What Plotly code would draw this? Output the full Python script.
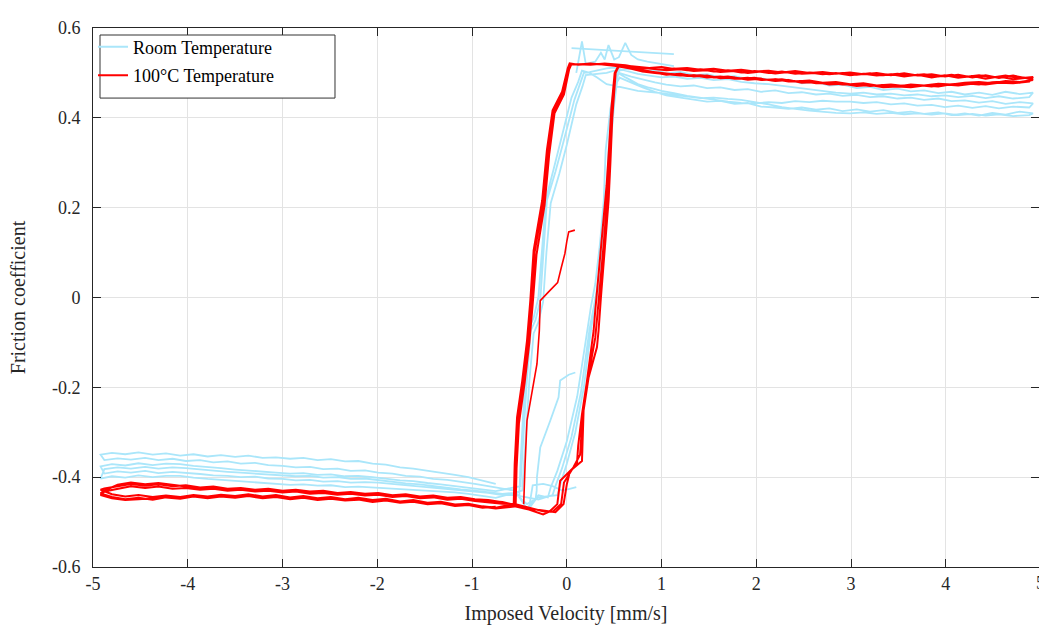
import plotly.graph_objects as go

# ---------------- sampling grids (velocity, mm/s) ----------------
XTOP_F = [0.55, 0.68, 0.8, 0.93, 1.05, 1.2, 1.34, 1.48, 1.62, 1.77, 1.91, 2.05, 2.2, 2.34, 2.48, 2.63,
          2.77, 2.91, 3.06, 3.2, 3.34, 3.49, 3.63, 3.77, 3.92, 4.06, 4.2, 4.35, 4.49, 4.63, 4.78, 4.92]
XTOP_R = [0.5, 0.62, 0.75, 0.87, 1.0, 1.13, 1.27, 1.41, 1.55, 1.7, 1.84, 1.98, 2.13, 2.27, 2.41, 2.56,
          2.7, 2.84, 2.99, 3.13, 3.27, 3.42, 3.56, 3.7, 3.85, 3.99, 4.13, 4.28, 4.42, 4.56, 4.71, 4.88]
XBOT_F = [-4.88, -4.74, -4.6, -4.45, -4.31, -4.16, -4.02, -3.87, -3.73, -3.58, -3.44, -3.29, -3.15, -3.0, -2.86,
          -2.71, -2.57, -2.42, -2.28, -2.13, -1.99, -1.84, -1.7, -1.55, -1.41, -1.26, -1.12, -0.97, -0.83, -0.68]
XBOT_R = [-4.92, -4.8, -4.66, -4.52, -4.37, -4.23, -4.08, -3.94, -3.79, -3.65, -3.5, -3.36, -3.21, -3.07, -2.92,
          -2.78, -2.63, -2.49, -2.34, -2.2, -2.05, -1.91, -1.76, -1.62, -1.47, -1.33, -1.18, -1.04, -0.89, -0.75]

# ---------------- 100 C temperature (red) ----------------
RSX = [0.085, 0.02, 0.0, -0.02, -0.06, -0.097, -0.19, -0.28, -0.285, -0.29, -0.315, -0.37, -0.42, -0.44, -0.455]
RSY = [0.15, 0.146, 0.125, 0.098, 0.065, 0.033, 0.013, -0.007, -0.04, -0.074, -0.148, -0.21, -0.274, -0.37, -0.46]

RF1 = [0.515, 0.509, 0.503, 0.5, 0.497, 0.494, 0.495, 0.49, 0.492, 0.487, 0.489, 0.484, 0.486, 0.481, 0.482, 0.477,
       0.478, 0.474, 0.475, 0.471, 0.473, 0.47, 0.474, 0.472, 0.476, 0.474, 0.478, 0.48, 0.477, 0.482, 0.48, 0.484]
RF2 = [0.518, 0.512, 0.506, 0.501, 0.496, 0.498, 0.492, 0.494, 0.488, 0.49, 0.485, 0.487, 0.482, 0.484, 0.478, 0.48,
       0.474, 0.476, 0.471, 0.473, 0.468, 0.47, 0.468, 0.472, 0.47, 0.475, 0.477, 0.474, 0.479, 0.481, 0.478, 0.485]
RF3 = [0.517, 0.514, 0.511, 0.509, 0.506, 0.508, 0.504, 0.506, 0.502, 0.504, 0.5, 0.503, 0.499, 0.502, 0.498, 0.5,
       0.497, 0.5, 0.496, 0.499, 0.495, 0.498, 0.494, 0.497, 0.492, 0.496, 0.491, 0.495, 0.49, 0.494, 0.488, 0.491]
RU1 = [0.519, 0.516, 0.514, 0.511, 0.513, 0.509, 0.511, 0.507, 0.509, 0.505, 0.507, 0.503, 0.505, 0.501, 0.504, 0.5,
       0.502, 0.498, 0.501, 0.497, 0.5, 0.495, 0.499, 0.494, 0.497, 0.492, 0.496, 0.49, 0.495, 0.489, 0.494, 0.487]
RU2 = [0.52, 0.517, 0.512, 0.51, 0.507, 0.51, 0.506, 0.508, 0.503, 0.506, 0.501, 0.504, 0.5, 0.503, 0.498, 0.501,
       0.497, 0.5, 0.495, 0.498, 0.494, 0.497, 0.492, 0.496, 0.49, 0.495, 0.489, 0.493, 0.487, 0.492, 0.486, 0.49]
RU3 = [0.516, 0.512, 0.507, 0.503, 0.499, 0.496, 0.493, 0.495, 0.49, 0.492, 0.487, 0.489, 0.484, 0.486, 0.481, 0.483,
       0.478, 0.48, 0.475, 0.477, 0.472, 0.474, 0.471, 0.473, 0.47, 0.474, 0.472, 0.476, 0.474, 0.478, 0.477, 0.481]

TLX = [0.4, 0.25, 0.12]
TLY1 = [0.519, 0.52, 0.518]
TLY2 = [0.521, 0.518, 0.52]
TLY3 = [0.518, 0.521, 0.519]

RLX1 = [0.03, 0.01, -0.05, -0.15, -0.21, -0.26, -0.35, -0.385, -0.42, -0.47, -0.525, -0.55, -0.56]
RLY1 = [0.521, 0.51, 0.458, 0.417, 0.328, 0.216, 0.105, -0.007, -0.096, -0.185, -0.267, -0.371, -0.46]
RLX2 = [0.05, 0.025, -0.03, -0.13, -0.185, -0.235, -0.32, -0.36, -0.395, -0.445, -0.505, -0.53, -0.54]
RLY2 = [0.52, 0.508, 0.452, 0.41, 0.32, 0.205, 0.095, -0.015, -0.1, -0.19, -0.28, -0.38, -0.465]
RLX3 = [0.04, 0.02, -0.045, -0.14, -0.2, -0.25, -0.34, -0.375, -0.41, -0.46, -0.515, -0.545, -0.555]
RLY3 = [0.519, 0.507, 0.455, 0.414, 0.325, 0.21, 0.1, -0.01, -0.098, -0.188, -0.272, -0.375, -0.462]

RBL1 = [-0.436, -0.444, -0.449, -0.446, -0.45, -0.445, -0.448, -0.443, -0.447, -0.443, -0.446, -0.442, -0.447, -0.444, -0.449,
        -0.446, -0.451, -0.448, -0.452, -0.45, -0.455, -0.452, -0.457, -0.455, -0.46, -0.458, -0.464, -0.462, -0.468, -0.466]
RBL2 = [-0.428, -0.438, -0.443, -0.44, -0.444, -0.441, -0.444, -0.44, -0.443, -0.439, -0.442, -0.438, -0.443, -0.44, -0.445,
        -0.442, -0.447, -0.444, -0.449, -0.446, -0.451, -0.448, -0.454, -0.451, -0.457, -0.455, -0.461, -0.459, -0.465, -0.468]
RBL3 = [-0.44, -0.447, -0.451, -0.449, -0.447, -0.443, -0.445, -0.441, -0.444, -0.44, -0.444, -0.44, -0.445, -0.441, -0.446,
        -0.443, -0.448, -0.445, -0.45, -0.447, -0.452, -0.45, -0.455, -0.452, -0.458, -0.456, -0.462, -0.46, -0.466, -0.47]
RBU1 = [-0.43, -0.417, -0.412, -0.416, -0.413, -0.418, -0.421, -0.425, -0.423, -0.427, -0.425, -0.429, -0.427, -0.431, -0.429,
        -0.433, -0.431, -0.436, -0.434, -0.438, -0.436, -0.441, -0.439, -0.444, -0.442, -0.447, -0.445, -0.45, -0.452, -0.455]
RBU2 = [-0.425, -0.42, -0.415, -0.419, -0.416, -0.42, -0.418, -0.423, -0.421, -0.426, -0.424, -0.428, -0.426, -0.43, -0.428,
        -0.432, -0.43, -0.435, -0.433, -0.437, -0.435, -0.44, -0.438, -0.443, -0.441, -0.446, -0.444, -0.449, -0.451, -0.456]
RBU3 = [-0.432, -0.426, -0.42, -0.424, -0.421, -0.426, -0.424, -0.428, -0.426, -0.43, -0.428, -0.432, -0.43, -0.434, -0.432,
        -0.437, -0.435, -0.439, -0.437, -0.441, -0.439, -0.444, -0.442, -0.447, -0.445, -0.45, -0.448, -0.453, -0.456, -0.459]

RTAILX = [-0.55, -0.4, -0.25]
RTAILY1 = [-0.462, -0.47, -0.474]
RTAILY2 = [-0.465, -0.472, -0.483]
RTAILY3 = [-0.46, -0.468, -0.476]

RRX1 = [-0.12, -0.034, 0.0, 0.035, 0.16, 0.177, 0.23, 0.318, 0.335, 0.36, 0.40, 0.441, 0.46, 0.48, 0.515, 0.55]
RRY1 = [-0.478, -0.46, -0.416, -0.386, -0.364, -0.252, -0.178, -0.111, -0.074, 0.0, 0.10, 0.216, 0.30, 0.40, 0.5, 0.515]
RRX2 = [-0.18, -0.10, -0.07, 0.107, 0.12, 0.16, 0.21, 0.283, 0.3, 0.335, 0.375, 0.42, 0.445, 0.47, 0.505, 0.55]
RRY2 = [-0.476, -0.46, -0.408, -0.371, -0.33, -0.26, -0.19, -0.074, -0.03, 0.05, 0.15, 0.25, 0.33, 0.42, 0.5, 0.518]
RRX3 = [-0.15, -0.06, -0.03, 0.07, 0.14, 0.17, 0.22, 0.3, 0.318, 0.35, 0.39, 0.43, 0.455, 0.475, 0.51, 0.55]
RRY3 = [-0.477, -0.46, -0.412, -0.378, -0.35, -0.256, -0.184, -0.09, -0.05, 0.02, 0.12, 0.23, 0.31, 0.41, 0.5, 0.516]

# ---------------- Room temperature (light blue) ----------------
BSX = [0.09, 0.02, -0.07, -0.087, -0.174, -0.28, -0.315, -0.318, -0.33, -0.4, -0.36, -0.25, -0.15, -0.05, 0.03, 0.1]
BSY = [-0.167, -0.172, -0.185, -0.222, -0.274, -0.334, -0.40, -0.43, -0.45, -0.47, -0.418, -0.415, -0.42, -0.43, -0.426, -0.422]

BTF1 = [0.505, 0.51, 0.503, 0.507, 0.499, 0.502, 0.495, 0.497, 0.49, 0.493, 0.486, 0.488, 0.482, 0.485, 0.477, 0.48,
        0.472, 0.474, 0.466, 0.469, 0.462, 0.465, 0.459, 0.461, 0.455, 0.458, 0.452, 0.456, 0.451, 0.458, 0.453, 0.456]
BTF2 = [0.5, 0.492, 0.485, 0.479, 0.474, 0.47, 0.472, 0.466, 0.468, 0.462, 0.464, 0.458, 0.461, 0.455, 0.457, 0.452,
        0.454, 0.449, 0.451, 0.446, 0.448, 0.443, 0.445, 0.44, 0.443, 0.437, 0.439, 0.434, 0.437, 0.431, 0.435, 0.432]
BTF3 = [0.49, 0.478, 0.468, 0.458, 0.45, 0.445, 0.441, 0.436, 0.438, 0.431, 0.433, 0.425, 0.423, 0.42, 0.423, 0.418,
        0.421, 0.415, 0.419, 0.414, 0.417, 0.411, 0.414, 0.409, 0.412, 0.406, 0.41, 0.405, 0.411, 0.407, 0.414, 0.41]
BTR1 = [0.512, 0.505, 0.498, 0.494, 0.49, 0.492, 0.487, 0.489, 0.484, 0.486, 0.48, 0.477, 0.475, 0.471, 0.468, 0.463,
        0.46, 0.456, 0.454, 0.456, 0.452, 0.454, 0.45, 0.452, 0.448, 0.45, 0.446, 0.449, 0.444, 0.448, 0.443, 0.446]
BTR2 = [0.505, 0.49, 0.475, 0.467, 0.46, 0.455, 0.449, 0.444, 0.44, 0.436, 0.433, 0.432, 0.435, 0.433, 0.437, 0.435,
        0.438, 0.436, 0.436, 0.433, 0.435, 0.43, 0.432, 0.427, 0.429, 0.424, 0.427, 0.422, 0.426, 0.421, 0.425, 0.423]
BTR3 = [0.472, 0.466, 0.46, 0.457, 0.455, 0.451, 0.447, 0.444, 0.445, 0.442, 0.44, 0.436, 0.43, 0.424, 0.42, 0.416,
        0.413, 0.411, 0.41, 0.412, 0.409, 0.411, 0.408, 0.41, 0.407, 0.41, 0.406, 0.409, 0.405, 0.408, 0.404, 0.406]

BTLX = [0.42, 0.32, 0.24]
BTLY1 = [0.51, 0.505, 0.502]
BTLY2 = [0.5, 0.497, 0.495]
BTLY3 = [0.475, 0.49, 0.5]

BLBX1 = [0.18, 0.14, 0.08, -0.04, -0.12, -0.21, -0.248, -0.28, -0.33, -0.38, -0.42, -0.455, -0.48, -0.49]
BLBY1 = [0.50, 0.477, 0.44, 0.343, 0.28, 0.216, 0.105, -0.007, -0.05, -0.074, -0.18, -0.297, -0.38, -0.42]
BLBX2 = [0.2, 0.165, 0.1, 0.0, -0.08, -0.17, -0.215, -0.25, -0.3, -0.35, -0.395, -0.43, -0.46, -0.47]
BLBY2 = [0.495, 0.47, 0.43, 0.34, 0.275, 0.21, 0.1, -0.01, -0.055, -0.08, -0.185, -0.3, -0.385, -0.43]
BLBX3 = [0.16, 0.12, 0.05, -0.06, -0.14, -0.22, -0.26, -0.3, -0.35, -0.4, -0.44, -0.47, -0.49, -0.5]
BLBY3 = [0.505, 0.48, 0.445, 0.35, 0.285, 0.22, 0.11, 0.0, -0.045, -0.07, -0.175, -0.29, -0.375, -0.44]

BB1 = [-0.35, -0.346, -0.349, -0.345, -0.35, -0.347, -0.352, -0.349, -0.354, -0.351, -0.355, -0.352, -0.357, -0.356, -0.359,
       -0.357, -0.362, -0.36, -0.365, -0.364, -0.37, -0.372, -0.378, -0.381, -0.386, -0.39, -0.395, -0.4, -0.407, -0.415]
BB2 = [-0.362, -0.358, -0.361, -0.357, -0.362, -0.359, -0.364, -0.362, -0.367, -0.365, -0.37, -0.368, -0.373, -0.375, -0.378,
       -0.377, -0.382, -0.381, -0.386, -0.385, -0.39, -0.392, -0.397, -0.399, -0.404, -0.406, -0.41, -0.415, -0.42, -0.425]
BB3 = [-0.376, -0.371, -0.374, -0.369, -0.373, -0.37, -0.371, -0.375, -0.378, -0.38, -0.383, -0.386, -0.388, -0.39, -0.392,
       -0.391, -0.395, -0.394, -0.398, -0.397, -0.4, -0.403, -0.407, -0.409, -0.413, -0.416, -0.42, -0.423, -0.427, -0.431]
BB4 = [-0.392, -0.387, -0.39, -0.386, -0.391, -0.388, -0.39, -0.393, -0.396, -0.397, -0.4, -0.399, -0.403, -0.404, -0.407,
       -0.406, -0.41, -0.409, -0.412, -0.411, -0.412, -0.415, -0.418, -0.42, -0.423, -0.426, -0.428, -0.431, -0.435, -0.44]
BB5 = [-0.403, -0.398, -0.401, -0.396, -0.4, -0.397, -0.397, -0.401, -0.404, -0.406, -0.409, -0.411, -0.413, -0.415, -0.417,
       -0.416, -0.419, -0.418, -0.422, -0.421, -0.423, -0.425, -0.427, -0.429, -0.43, -0.432, -0.434, -0.437, -0.441, -0.446]
BB6 = [-0.382, -0.378, -0.381, -0.377, -0.381, -0.378, -0.38, -0.383, -0.386, -0.388, -0.39, -0.392, -0.393, -0.395, -0.398,
       -0.397, -0.401, -0.4, -0.404, -0.403, -0.407, -0.41, -0.414, -0.416, -0.42, -0.423, -0.427, -0.43, -0.434, -0.437]

BTAILX = [-0.55, -0.42, -0.3]
BTAILY1 = [-0.43, -0.47, -0.44]
BTAILY2 = [-0.44, -0.445, -0.45]
BTAILY3 = [-0.435, -0.46, -0.445]

BRBX1 = [-0.2, -0.17, -0.10, 0.0, 0.11, 0.21, 0.255, 0.30, 0.35, 0.39, 0.41, 0.46, 0.5, 0.53]
BRBY1 = [-0.445, -0.423, -0.386, -0.32, -0.22, -0.074, -0.02, 0.03, 0.12, 0.216, 0.328, 0.42, 0.47, 0.50]
BRBX2 = [-0.15, -0.12, -0.05, 0.05, 0.15, 0.24, 0.29, 0.33, 0.38, 0.42, 0.44, 0.48, 0.52, 0.55]
BRBY2 = [-0.44, -0.42, -0.38, -0.31, -0.21, -0.07, -0.015, 0.035, 0.125, 0.22, 0.33, 0.425, 0.475, 0.505]
BRBX3 = [-0.1, -0.06, 0.0, 0.09, 0.18, 0.26, 0.31, 0.35, 0.4, 0.44, 0.46, 0.5, 0.53, 0.56]
BRBY3 = [-0.44, -0.41, -0.37, -0.3, -0.2, -0.065, -0.01, 0.04, 0.13, 0.225, 0.335, 0.43, 0.48, 0.49]

BSPX = [0.1, 0.16, 0.2, 0.3, 0.36, 0.4, 0.44, 0.5, 0.55, 0.617, 0.68, 0.75, 0.85, 1.0, 1.13]
BSPY = [0.5, 0.57, 0.52, 0.525, 0.545, 0.53, 0.562, 0.53, 0.535, 0.567, 0.54, 0.53, 0.525, 0.52, 0.515]
BSLX = [0.05, 1.13]
BSLY = [0.555, 0.542]

X_TICKS = [-5, -4, -3, -2, -1, 0, 1, 2, 3, 4, 5]
X_TICKTEXT = ["-5", "-4", "-3", "-2", "-1", "0", "1", "2", "3", "4", "5"]
Y_TICKS = [-0.6, -0.4, -0.2, 0, 0.2, 0.4, 0.6]
Y_TICKTEXT = ["-0.6", "-0.4", "-0.2", "0", "0.2", "0.4", "0.6"]


def rev(a):
    return list(a)[::-1]


red_x = (rev(XBOT_R) + XBOT_F + RTAILX + RRX1 + XTOP_F + rev(XTOP_R) + TLX + RLX1 +
         rev(XBOT_R) + XBOT_F + RTAILX + RRX2 + XTOP_F + rev(XTOP_R) + TLX + RLX2 +
         rev(XBOT_R) + XBOT_F + RTAILX + RRX3 + XTOP_F + rev(XTOP_R) + TLX + RLX3)
red_y = (rev(RBL1) + RBU1 + RTAILY1 + RRY1 + RF1 + rev(RU1) + TLY1 + RLY1 +
         rev(RBL2) + RBU2 + RTAILY2 + RRY2 + RF2 + rev(RU2) + TLY2 + RLY2 +
         rev(RBL3) + RBU3 + RTAILY3 + RRY3 + RF3 + rev(RU3) + TLY3 + RLY3)

blue_x = (rev(XBOT_R) + XBOT_F + BTAILX + BRBX1 + XTOP_F + rev(XTOP_R) + BTLX + BLBX1 +
          rev(XBOT_R) + XBOT_F + BTAILX + BRBX2 + XTOP_F + rev(XTOP_R) + BTLX + BLBX2 +
          rev(XBOT_R) + XBOT_F + BTAILX + BRBX3 + XTOP_F + rev(XTOP_R) + BTLX + BLBX3)
blue_y = (rev(BB1) + BB2 + BTAILY1 + BRBY1 + BTF1 + rev(BTR1) + BTLY1 + BLBY1 +
          rev(BB3) + BB4 + BTAILY2 + BRBY2 + BTF2 + rev(BTR2) + BTLY2 + BLBY2 +
          rev(BB5) + BB6 + BTAILY3 + BRBY3 + BTF3 + rev(BTR3) + BTLY3 + BLBY3)

BLUE = "#aae6fa"
RED = "#ff0000"
FONT = "Liberation Serif"
INK = "#262626"

fig = go.Figure()
fig.add_trace(go.Scatter(x=blue_x, y=blue_y, mode="lines", name="Room Temperature",
                         line=dict(color=BLUE, width=1.8), legendgroup="rt"))
fig.add_trace(go.Scatter(x=BSX, y=BSY, mode="lines", showlegend=False,
                         line=dict(color=BLUE, width=1.8), legendgroup="rt"))
fig.add_trace(go.Scatter(x=BSPX, y=BSPY, mode="lines", showlegend=False,
                         line=dict(color=BLUE, width=1.8), legendgroup="rt"))
fig.add_trace(go.Scatter(x=BSLX, y=BSLY, mode="lines", showlegend=False,
                         line=dict(color=BLUE, width=1.8), legendgroup="rt"))
fig.add_trace(go.Scatter(x=red_x, y=red_y, mode="lines", name="100°C Temperature",
                         line=dict(color=RED, width=2), legendgroup="ht"))
fig.add_trace(go.Scatter(x=RSX, y=RSY, mode="lines", showlegend=False,
                         line=dict(color=RED, width=1.6), legendgroup="ht"))

fig.update_layout(
    width=1039, height=628,
    margin=dict(l=93, r=0, t=28, b=61),
    paper_bgcolor="white", plot_bgcolor="white",
    font=dict(family=FONT, size=18, color=INK),
    showlegend=True,
    legend=dict(x=0.0, y=0.999, xanchor="left", yanchor="top",
                bgcolor="rgba(0,0,0,0)", borderwidth=0,
                font=dict(family=FONT, size=18, color="#000000"),
                tracegroupgap=2, traceorder="grouped"),
    shapes=[dict(type="rect", xref="paper", yref="paper",
                 x0=0.0074, x1=0.2558, y0=0.87, y1=0.987,
                 fillcolor="white", line=dict(color="#333333", width=1), layer="above")],
    annotations=[dict(x=1.0015, y=0, xref="paper", yref="paper", text="5", showarrow=False,
                      xanchor="center", yanchor="top", yshift=-4,
                      font=dict(family=FONT, size=18, color=INK))],
)
fig.update_xaxes(range=[-5, 4.983], tickvals=X_TICKS, ticktext=X_TICKTEXT, ticks="inside", ticklen=8,
                 tickcolor=INK, automargin=False,
                 showline=True, linecolor=INK, linewidth=1, mirror="ticks",
                 showgrid=True, gridcolor="#e3e3e3", gridwidth=1, zeroline=False,
                 tickfont=dict(family=FONT, size=18, color=INK),
                 title=dict(text="Imposed Velocity [mm/s]", font=dict(family=FONT, size=20, color=INK), standoff=13))
fig.update_yaxes(range=[-0.6, 0.6], tickvals=Y_TICKS, ticktext=Y_TICKTEXT, ticks="inside", ticklen=8,
                 tickcolor=INK, automargin=False, showline=True, linecolor=INK, linewidth=1, mirror="ticks",
                 showgrid=True, gridcolor="#e3e3e3", gridwidth=1, zeroline=False,
                 tickfont=dict(family=FONT, size=18, color=INK), ticklabelstandoff=8,
                 title=dict(text="Friction coefficient", font=dict(family=FONT, size=20, color=INK), standoff=20))

fig.write_html("out.html", config={"displayModeBar": False},
               post_script="document.body.style.margin='0';document.body.style.overflow='hidden';")
